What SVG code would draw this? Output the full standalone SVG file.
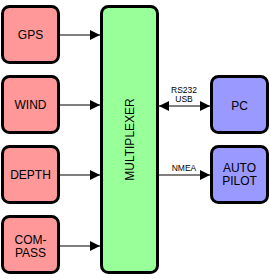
<svg xmlns="http://www.w3.org/2000/svg" width="270" height="280" viewBox="0 0 270 280">
<defs>
<style>
.box{stroke:#000;stroke-width:3}
.in{fill:#FF9999}
.out{fill:#9999FF}
.mux{fill:#99FF99}
.t{font-family:"Liberation Sans",Arial,sans-serif;font-size:12px;text-anchor:middle;fill:#000}
.l{font-family:"Liberation Sans",Arial,sans-serif;font-size:8.5px;text-anchor:middle;fill:#000}
.c{stroke:#000;stroke-width:1.2;fill:none}
</style>
<marker id="ah" markerWidth="10" markerHeight="10" refX="10" refY="5" orient="auto" markerUnits="userSpaceOnUse">
<path d="M0,0 L10,5 L0,10 Z" fill="#000"/>
</marker>
<marker id="as" markerWidth="10" markerHeight="10" refX="0" refY="5" orient="auto" markerUnits="userSpaceOnUse">
<path d="M10,0 L0,5 L10,10 Z" fill="#000"/>
</marker>
</defs>
<g id="connectors">
<line class="c" x1="59" y1="35" x2="100" y2="35" marker-end="url(#ah)"/>
<line class="c" x1="59" y1="105" x2="100" y2="105" marker-end="url(#ah)"/>
<line class="c" x1="59" y1="175" x2="100" y2="175" marker-end="url(#ah)"/>
<line class="c" x1="59" y1="246" x2="100" y2="246" marker-end="url(#ah)"/>
<line class="c" x1="159" y1="106" x2="210" y2="106" marker-start="url(#as)" marker-end="url(#ah)"/>
<text class="l" x="184" y="92.5">RS232</text>
<text class="l" x="184" y="101.5">USB</text>
<line class="c" x1="159" y1="175" x2="210" y2="175" marker-end="url(#ah)"/>
<text class="l" x="184" y="171">NMEA</text>
</g>
<g id="gps"><rect class="box in" x="2.5" y="6.5" width="56" height="56" rx="7"/><text class="t" x="30.5" y="39">GPS</text></g>
<g id="wind"><rect class="box in" x="2.5" y="76.5" width="56" height="56" rx="7"/><text class="t" x="30.5" y="109">WIND</text></g>
<g id="depth"><rect class="box in" x="2.5" y="146.5" width="56" height="56" rx="7"/><text class="t" x="30.5" y="179">DEPTH</text></g>
<g id="compass"><rect class="box in" x="2.5" y="216.5" width="56" height="56" rx="7"/><text class="t" x="30.5" y="244">COM-</text><text class="t" x="30.5" y="257">PASS</text></g>
<g id="multiplexer"><rect class="box mux" x="101.5" y="6.5" width="56" height="266" rx="7"/><text class="t" transform="translate(133.5,139.5) rotate(-90)">MULTIPLEXER</text></g>
<g id="pc"><rect class="box out" x="211.5" y="76.5" width="56" height="56" rx="7"/><text class="t" x="239.5" y="110">PC</text></g>
<g id="autopilot"><rect class="box out" x="211.5" y="146.5" width="56" height="56" rx="7"/><text class="t" x="239.5" y="172">AUTO</text><text class="t" x="239.5" y="185">PILOT</text></g>
</svg>
